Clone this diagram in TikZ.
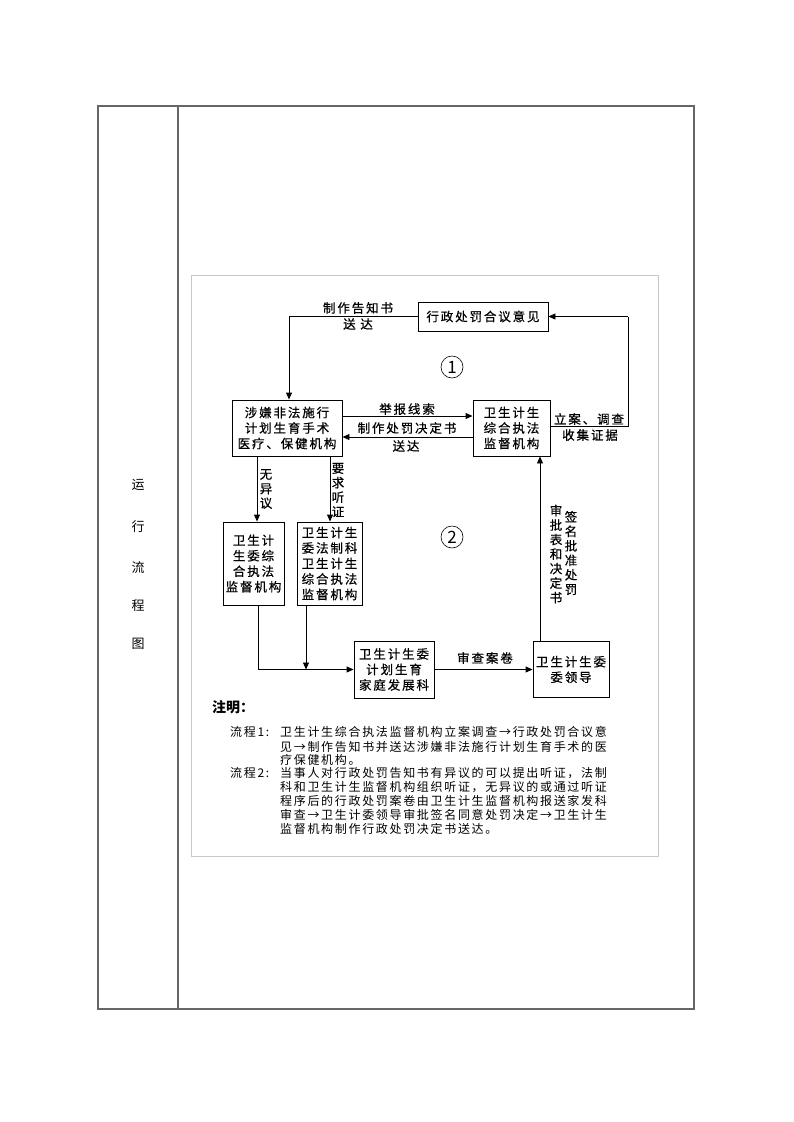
\documentclass[tikz,border=0pt]{standalone}
\usepackage{fontspec}
\usetikzlibrary{arrows.meta,calc}
\newfontfamily\cjk[LetterSpace=15,FakeBold=0.6]{Noto Sans CJK SC}
\newfontfamily\cjkv[FakeBold=0.6]{Noto Sans CJK SC}
\newfontfamily\cjkn[LetterSpace=14]{Noto Sans CJK SC}
\newfontfamily\cjkplain{Noto Sans CJK SC}
\begin{document}
\begin{tikzpicture}[x=1pt,y=-1pt,
  tbl/.style={draw=black!60, line width=1.2pt},
  frm/.style={draw=black!22, line width=1pt},
  box/.style={draw, line width=0.9pt, align=center, inner sep=0pt,
    font=\cjk\fontsize{12.5}{15.5}\selectfont},
  lbl/.style={inner sep=0pt, align=center, font=\cjk\fontsize{12.5}{15}\selectfont},
  vlbl/.style={inner sep=0pt, align=center, font=\cjkv\fontsize{12.5}{14.5}\selectfont},
  note/.style={inner sep=0pt, anchor=west, font=\cjkn\fontsize{12}{14}\selectfont},
  side/.style={inner sep=0pt, font=\cjkplain\fontsize{13}{14}\selectfont},
  num/.style={circle, draw, line width=0.6pt, minimum size=22pt, inner sep=0pt,
    font=\cjkplain\fontsize{17}{17}\selectfont},
  arr/.style={line width=0.9pt, -{Triangle[length=7pt,width=6pt]}},
  ln/.style={line width=0.9pt}]
\useasboundingbox (0,0) rectangle (793,1122);
% outer table
\draw[tbl] (98,106) rectangle (694,1009);
\draw[tbl] (178,106) -- (178,1009);
\node[side] (s1) at (138,485) {运};
\node[side] (s2) at (138,527) {行};
\node[side] (s3) at (138,568) {流};
\node[side] (s4) at (138,606) {程};
\node[side] (s5) at (138,644) {图};
% picture frame
\draw[frm] (191.5,275) rectangle (658.5,856);
% boxes
\node[box, minimum width=130pt, minimum height=29pt] (yz) at (483,316.5) {行政处罚合议意见};
\node[box, minimum width=110pt, minimum height=56pt] (sx) at (287,428) {涉嫌非法施行\\计划生育手术\\医疗、保健机构};
\node[box, minimum width=77pt, minimum height=56pt] (jd) at (511.5,428) {卫生计生\\综合执法\\监督机构};
\node[box, minimum width=61pt, minimum height=83pt] (A) at (253.5,563.5) {卫生计\\生委综\\合执法\\监督机构};
\node[box, minimum width=65pt, minimum height=83pt] (B) at (329.5,563.5) {卫生计生\\委法制科\\卫生计生\\综合执法\\监督机构};
\node[box, minimum width=80pt, minimum height=57pt] (C) at (394,669.5) {卫生计生委\\计划生育\\家庭发展科};
\node[box, minimum width=76pt, minimum height=56pt] (D) at (571,669.5) {卫生计生委\\委领导};
% helper coordinates
\coordinate (xa) at (257,0);
\coordinate (xb) at (330,0);
\coordinate (xa2) at (258,0);
\coordinate (xb2) at (306,0);
\coordinate (xd) at (540,0);
\coordinate (rt) at (628,316.5);
% connectors
\draw[arr] (yz.west) -| ([xshift=2pt]sx.north);
\draw[arr] ([yshift=12pt]sx.east) -- ([yshift=12pt]jd.west);
\draw[arr] ([yshift=-9pt]jd.west) -- ([yshift=-9pt]sx.east);
\draw[ln] ([yshift=2pt]jd.east) -| (rt);
\draw[arr] (rt) -- (yz.east);
\draw[arr] (sx.south -| xa) -- (A.north -| xa);
\draw[arr] (sx.south -| xb) -- (B.north -| xb);
\draw[arr] (A.south -| xa2) |- (C.west);
\draw[arr] (B.south -| xb2) -- (xb2 |- C.west);
\draw[arr] (C.east) -- (D.west);
\draw[arr] (D.north -| xd) -- (jd.south -| xd);
% labels
\node[lbl] (l1) at (358,308) {制作告知书};
\node[lbl] (l2) at (358,324) {送 达};
\node[lbl] (l3) at (407,409) {举报线索};
\node[lbl] (l4) at (407,428) {制作处罚决定书};
\node[lbl] (l5) at (406,446) {送达};
\node[lbl] (l6) at (589,419) {立案、调查};
\node[lbl] (l7) at (590,435) {收集证据};
\node[vlbl] (l8) at (266,489) {无\\异\\议};
\node[vlbl] (l9) at (338,490) {要\\求\\听\\证};
\node[vlbl] (l10) at (556,554) {审\\批\\表\\和\\决\\定\\书};
\node[vlbl] (l11) at (571,553) {签\\名\\批\\准\\处\\罚};
\node[lbl] (l12) at (485,658) {审查案卷};
\node[num] (n1) at (452,367) {1};
\node[num] (n2) at (452,537) {2};
% notes
\node[inner sep=0pt, anchor=west, font=\cjkplain\bfseries\fontsize{14}{14}\selectfont] (zm) at (212,707) {注明：};
\node[note] (p1) at (230,732) {流程1:};
\node[note] (t1) at (280,732) {卫生计生综合执法监督机构立案调查→行政处罚合议意};
\node[note] (t2) at (280,746.5) {见→制作告知书并送达涉嫌非法施行计划生育手术的医};
\node[note] (t3) at (280,760) {疗保健机构。};
\node[note] (p2) at (230,773) {流程2:};
\node[note] (t4) at (280,773) {当事人对行政处罚告知书有异议的可以提出听证，法制};
\node[note] (t5) at (280,787) {科和卫生计生监督机构组织听证，无异议的或通过听证};
\node[note] (t6) at (280,801) {程序后的行政处罚案卷由卫生计生监督机构报送家发科};
\node[note] (t7) at (280,815) {审查→卫生计委领导审批签名同意处罚决定→卫生计生};
\node[note] (t8) at (280,829) {监督机构制作行政处罚决定书送达。};
\end{tikzpicture}
\end{document}
